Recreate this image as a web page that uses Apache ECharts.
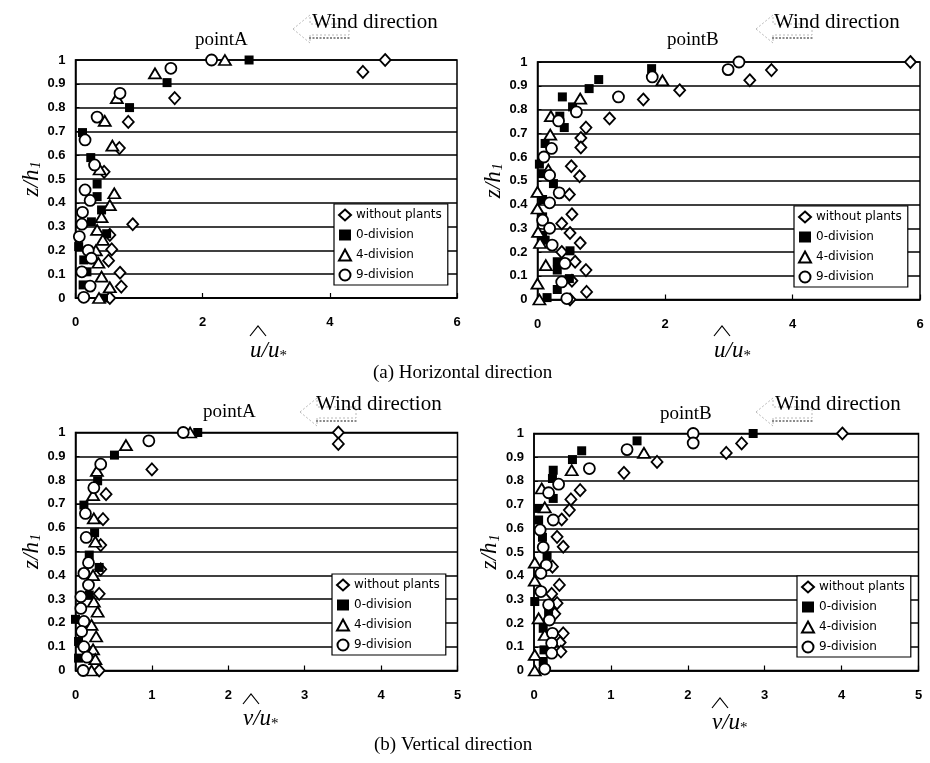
<!DOCTYPE html>
<html>
<head>
<meta charset="utf-8">
<title>z/h1 profiles</title>
<script src="https://cdn.jsdelivr.net/npm/echarts@6/dist/echarts.min.js"></script>
<style>
  html, body { margin: 0; padding: 0; background: #fff; }
  #chart { width: 930px; height: 763px; }
</style>
</head>
<body>
<div id="chart"></div>
<script>
// 图例名称
var seriesNames = ['without plants', '0-division', '4-division', '9-division'];
var yTicks = [0, 0.1, 0.2, 0.3, 0.4, 0.5, 0.6, 0.7, 0.8, 0.9, 1];

// (a) Horizontal direction, pointA  [u/u*, z/h1]
var aH_none = [[4.87, 1.0], [4.52, 0.95], [1.56, 0.84], [0.83, 0.74], [0.69, 0.63], [0.45, 0.53], [0.90, 0.31], [0.54, 0.265], [0.57, 0.204], [0.52, 0.157], [0.70, 0.106], [0.72, 0.048], [0.54, 0.0]];
var aH_div0 = [[2.73, 1.0], [1.44, 0.905], [0.85, 0.80], [0.11, 0.695], [0.24, 0.59], [0.34, 0.479], [0.34, 0.426], [0.41, 0.37], [0.25, 0.32], [0.49, 0.27], [0.05, 0.216], [0.13, 0.16], [0.18, 0.11], [0.12, 0.055], [0.44, 0.0]];
var aH_div4 = [[2.35, 1.0], [1.25, 0.944], [0.65, 0.84], [0.46, 0.744], [0.58, 0.64], [0.38, 0.54], [0.61, 0.44], [0.54, 0.39], [0.41, 0.34], [0.34, 0.286], [0.43, 0.244], [0.32, 0.20], [0.36, 0.148], [0.41, 0.09], [0.54, 0.045], [0.37, 0.0]];
var aH_div9 = [[2.14, 1.0], [1.50, 0.965], [0.70, 0.86], [0.34, 0.76], [0.15, 0.664], [0.30, 0.559], [0.15, 0.454], [0.23, 0.41], [0.11, 0.36], [0.10, 0.31], [0.06, 0.258], [0.20, 0.20], [0.25, 0.167], [0.10, 0.11], [0.23, 0.05], [0.13, 0.003]];

// (a) Horizontal direction, pointB
var bH_none = [[5.85, 1.0], [3.67, 0.966], [3.33, 0.923], [2.23, 0.881], [1.66, 0.842], [1.13, 0.762], [0.76, 0.724], [0.68, 0.68], [0.68, 0.64], [0.53, 0.561], [0.66, 0.519], [0.50, 0.442], [0.54, 0.359], [0.38, 0.32], [0.51, 0.28], [0.67, 0.238], [0.38, 0.20], [0.59, 0.159], [0.76, 0.124], [0.54, 0.079], [0.77, 0.032], [0.51, 0.0]];
var bH_div0 = [[1.79, 0.972], [0.96, 0.926], [0.81, 0.888], [0.39, 0.853], [0.55, 0.811], [0.35, 0.772], [0.42, 0.724], [0.12, 0.657], [0.03, 0.57], [0.07, 0.53], [0.25, 0.488], [0.08, 0.421], [0.08, 0.348], [0.08, 0.27], [0.12, 0.25], [0.51, 0.205], [0.31, 0.159], [0.31, 0.124], [0.50, 0.088], [0.31, 0.042], [0.15, 0.008]];
var bH_div4 = [[1.96, 0.923], [0.67, 0.846], [0.21, 0.772], [0.20, 0.694], [0.17, 0.547], [0.0, 0.453], [0.0, 0.383], [0.01, 0.285], [0.04, 0.238], [0.13, 0.145], [0.0, 0.067], [0.03, 0.0]];
var bH_div9 = [[3.16, 1.0], [2.99, 0.968], [1.80, 0.937], [1.27, 0.853], [0.61, 0.79], [0.33, 0.752], [0.22, 0.636], [0.10, 0.60], [0.19, 0.523], [0.34, 0.449], [0.19, 0.407], [0.08, 0.334], [0.19, 0.30], [0.23, 0.229], [0.43, 0.152], [0.38, 0.074], [0.46, 0.004]];

// (b) Vertical direction, pointA  [v/u*, z/h1]
var aV_none = [[3.44, 1.0], [3.44, 0.952], [1.0, 0.845], [0.40, 0.741], [0.36, 0.636], [0.33, 0.527], [0.33, 0.425], [0.31, 0.322], [0.31, 0.0]];
var aV_div0 = [[1.60, 1.0], [0.51, 0.905], [0.29, 0.797], [0.11, 0.695], [0.25, 0.579], [0.18, 0.485], [0.31, 0.433], [0.18, 0.317], [0.0, 0.215], [0.04, 0.122], [0.04, 0.052]];
var aV_div4 = [[1.50, 1.0], [0.66, 0.947], [0.28, 0.839], [0.23, 0.737], [0.24, 0.639], [0.26, 0.541], [0.23, 0.401], [0.24, 0.289], [0.29, 0.247], [0.21, 0.192], [0.27, 0.143], [0.23, 0.089], [0.26, 0.048], [0.21, 0.0]];
var aV_div9 = [[1.41, 1.0], [0.96, 0.965], [0.33, 0.867], [0.24, 0.768], [0.13, 0.66], [0.14, 0.559], [0.17, 0.453], [0.11, 0.408], [0.17, 0.359], [0.07, 0.31], [0.07, 0.261], [0.11, 0.206], [0.08, 0.164], [0.11, 0.10], [0.15, 0.056], [0.10, 0.0]];

// (b) Vertical direction, pointB
var bV_none = [[4.01, 1.0], [2.70, 0.958], [2.50, 0.918], [1.60, 0.88], [1.17, 0.834], [0.60, 0.761], [0.48, 0.722], [0.46, 0.677], [0.36, 0.637], [0.30, 0.564], [0.38, 0.522], [0.24, 0.438], [0.33, 0.361], [0.23, 0.323], [0.30, 0.284], [0.27, 0.239], [0.38, 0.157], [0.34, 0.118], [0.35, 0.08]];
var bV_div0 = [[2.85, 1.0], [1.34, 0.969], [0.62, 0.927], [0.50, 0.89], [0.25, 0.845], [0.24, 0.81], [0.25, 0.726], [0.06, 0.684], [0.06, 0.635], [0.11, 0.562], [0.17, 0.483], [0.01, 0.291], [0.19, 0.244], [0.12, 0.178], [0.13, 0.087], [0.12, 0.038]];
var bV_div4 = [[1.43, 0.918], [0.49, 0.845], [0.10, 0.768], [0.14, 0.688], [0.01, 0.455], [0.01, 0.379], [0.06, 0.22], [0.14, 0.15], [0.01, 0.066], [0.01, 0.0]];
var bV_div9 = [[2.07, 1.0], [2.07, 0.96], [1.21, 0.932], [0.72, 0.852], [0.32, 0.786], [0.19, 0.75], [0.25, 0.635], [0.08, 0.593], [0.12, 0.52], [0.16, 0.445], [0.09, 0.41], [0.09, 0.333], [0.19, 0.277], [0.20, 0.213], [0.24, 0.157], [0.23, 0.115], [0.23, 0.073], [0.14, 0.006]];

var xMaxTop = 6, xStepTop = 2;
var xMaxBottom = 5, xStepBottom = 1;

(function() {
  var SERIF = '"Liberation Serif", "DejaVu Serif", serif';
  var SANS = '"Liberation Sans", Arial, sans-serif';
  var GOTHIC = '"DejaVu Sans", sans-serif';

  var panels = [
    { grid: { left: 75.5, top: 60, width: 381.5, height: 238 }, max: xMaxTop, step: xStepTop, data: [aH_none, aH_div0, aH_div4, aH_div9], legend: { left: 334, top: 204 } },
    { grid: { left: 537.5, top: 62, width: 382.5, height: 237.5 }, max: xMaxTop, step: xStepTop, data: [bH_none, bH_div0, bH_div4, bH_div9], legend: { left: 794, top: 206 } },
    { grid: { left: 75.5, top: 432.5, width: 382, height: 238 }, max: xMaxBottom, step: xStepBottom, data: [aV_none, aV_div0, aV_div4, aV_div9], legend: { left: 332, top: 574 } },
    { grid: { left: 534, top: 433.5, width: 384.5, height: 237 }, max: xMaxBottom, step: xStepBottom, data: [bV_none, bV_div0, bV_div4, bV_div9], legend: { left: 797, top: 576 } }
  ];

  // 每个系列的符号
  var symbols = [
    { symbol: 'diamond', size: [11, 12], fill: '#fff' },
    { symbol: 'rect', size: 9, fill: '#000' },
    { symbol: 'triangle', size: [12, 10], fill: '#fff' },
    { symbol: 'circle', size: 11, fill: '#fff' }
  ];

  var grids = [], xAxes = [], yAxes = [], series = [], legends = [];

  panels.forEach(function(p, i) {
    grids.push({
      left: p.grid.left, top: p.grid.top, width: p.grid.width, height: p.grid.height,
      show: true, borderColor: '#000', borderWidth: 1.5
    });

    xAxes.push({
      gridIndex: i, type: 'value', min: 0, max: p.max, interval: p.step,
      axisLine: { show: true, onZero: false, lineStyle: { color: '#000', width: 1.5 } },
      axisTick: { show: true, inside: true, length: 5, lineStyle: { color: '#000', width: 1.2 } },
      axisLabel: { margin: 18, color: '#000', fontSize: 13, fontWeight: 'bold', fontFamily: SANS },
      splitLine: { show: false }
    });

    yAxes.push({
      gridIndex: i, type: 'value', min: 0, max: 1, interval: 0.1,
      name: '{i|z/h}{s|1}', nameLocation: 'middle', nameRotate: 90, nameGap: 26,
      nameTextStyle: {
        rich: {
          i: { fontFamily: SERIF, fontStyle: 'italic', fontSize: 23, color: '#000' },
          s: { fontFamily: SERIF, fontStyle: 'italic', fontSize: 14, color: '#000', padding: [10, 0, 0, 1] }
        }
      },
      axisLine: { show: true, lineStyle: { color: '#000', width: 1.5 } },
      axisTick: { show: true, inside: true, length: 4, lineStyle: { color: '#000' } },
      axisLabel: {
        margin: 10, color: '#000', fontSize: 13, fontWeight: 'bold', fontFamily: SANS,
        formatter: function(v) { return String(+v.toFixed(1)); }
      },
      splitLine: { show: true, lineStyle: { color: '#000', width: 1.5 } }
    });

    seriesNames.forEach(function(name, k) {
      var s = symbols[k];
      series.push({
        name: name, type: 'scatter', xAxisIndex: i, yAxisIndex: i,
        symbol: s.symbol, symbolSize: s.size, clip: false,
        itemStyle: { color: s.fill, borderColor: '#000', borderWidth: k === 1 ? 0 : 1.8, opacity: 1 },
        data: p.data[k]
      });
    });

    legends.push({
      data: seriesNames, orient: 'vertical', left: p.legend.left, top: p.legend.top,
      selectedMode: false, backgroundColor: '#fff', borderColor: '#000', borderWidth: 1.2,
      padding: [4, 6, 3, 4], itemWidth: 12, itemHeight: 11, itemGap: 6,
      textStyle: { fontFamily: GOTHIC, fontSize: 12, lineHeight: 14, color: '#000' }
    });
  });

  // 文字 + 风向箭头
  function label(x, y, text, size) {
    return { type: 'text', left: x, top: y, style: { text: text, font: size + 'px ' + SERIF, fill: '#000' } };
  }

  function windArrow(x, y) {
    return {
      type: 'group', x: x, y: y, silent: true,
      children: [
        { type: 'polygon', shape: { points: [[0, 14], [17, 0], [17, 9], [56, 9], [56, 20], [17, 20], [17, 28]] },
          style: { fill: 'none', stroke: '#b8b8b8', lineWidth: 1, lineDash: [2, 2] } },
        { type: 'line', shape: { x1: 16, y1: 23, x2: 58, y2: 23 },
          style: { stroke: '#666', lineWidth: 1.5, lineDash: [2, 1.5] } }
      ]
    };
  }

  function xName(x, y, letter) {
    return {
      type: 'group', x: x, y: y, silent: true,
      children: [
        { type: 'polyline', shape: { points: [[0, 10], [8, 0], [16, 10]] }, style: { stroke: '#000', lineWidth: 1.2, fill: 'none' } },
        { type: 'text', x: 0, y: 11, style: {
          text: '{i|' + letter + '/u}{s|*}',
          rich: {
            i: { fontFamily: SERIF, fontStyle: 'italic', fontSize: 23, fill: '#000' },
            s: { fontFamily: SERIF, fontSize: 15, fill: '#000', padding: [12, 0, 0, 0] }
          }
        } }
      ]
    };
  }

  var graphics = [
    label(195, 31, 'pointA', 19),
    windArrow(293, 15), label(312, 12, 'Wind direction', 21),
    label(667, 31, 'pointB', 19),
    windArrow(756, 15), label(774, 12, 'Wind direction', 21),
    label(203, 403, 'pointA', 19),
    windArrow(300, 398), label(316, 394, 'Wind direction', 21),
    label(660, 405, 'pointB', 19),
    windArrow(756, 398), label(775, 394, 'Wind direction', 21),
    xName(250, 326, 'u'),
    xName(714, 326, 'u'),
    xName(243, 694, 'v'),
    xName(712, 698, 'v'),
    label(373, 364, '(a) Horizontal direction', 19),
    label(374, 736, '(b) Vertical direction', 19)
  ];

  var chart = echarts.init(document.getElementById('chart'), null, { renderer: 'canvas' });
  chart.setOption({
    backgroundColor: '#fff',
    animation: false,
    grid: grids,
    xAxis: xAxes,
    yAxis: yAxes,
    legend: legends,
    series: series,
    graphic: graphics
  });
})();
</script>
</body>
</html>
